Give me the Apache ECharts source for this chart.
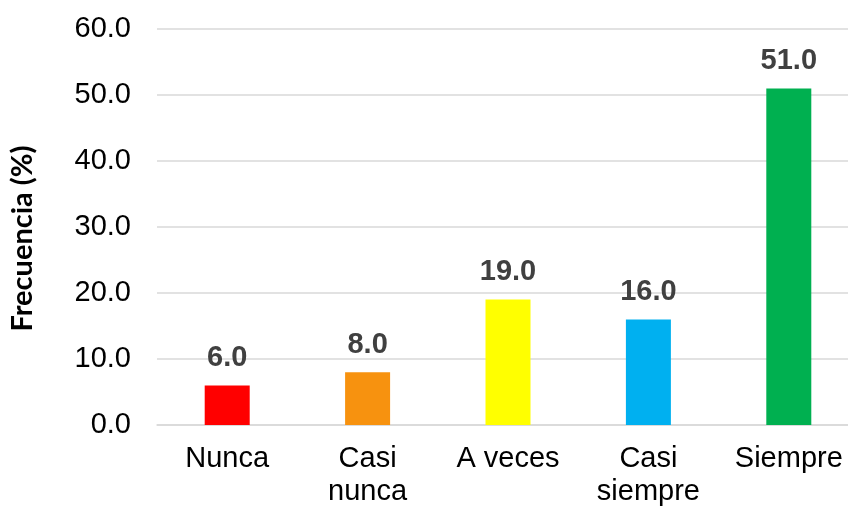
<!DOCTYPE html>
<html>
<head>
<meta charset="utf-8">
<script src="https://cdn.jsdelivr.net/npm/echarts@6/dist/echarts.min.js"></script>
<style>
html,body{margin:0;padding:0;background:#fff;}
#chart{width:848px;height:506px;}
</style>
</head>
<body>
<div id="chart"></div>
<script>
var categories = ['Nunca', 'Casi\nnunca', 'A veces', 'Casi\nsiempre', 'Siempre'];
var values = [6.0, 8.0, 19.0, 16.0, 51.0];
var barColors = ['#FF0000', '#F7920F', '#FFFF00', '#00B0F0', '#00B050'];
var yTitle = 'Frecuencia (%)';

var chart = echarts.init(document.getElementById('chart'), null, {renderer: 'canvas'});
chart.setOption({
  backgroundColor: '#ffffff',
  animation: false,
  grid: {left: 157, top: 29, width: 702, height: 396, containLabel: false, outerBoundsMode: 'none'},
  graphic: [{
    type: 'text',
    x: 23, y: 238.5,
    rotation: Math.PI / 2,
    style: {
      text: yTitle,
      font: 'bold 29px Lato',
      fill: '#000000',
      align: 'center',
      verticalAlign: 'middle'
    }
  }],
  xAxis: {
    type: 'category',
    data: categories,
    axisLine: {show: true, lineStyle: {color: '#d9d9d9', width: 1.5}},
    axisTick: {show: false},
    axisLabel: {
      interval: 0,
      margin: 17,
      fontFamily: 'Liberation Sans, Arial, sans-serif',
      fontSize: 29,
      lineHeight: 33,
      color: '#000000'
    }
  },
  yAxis: {
    type: 'value',
    min: 0, max: 60, interval: 10,
    axisLine: {show: false},
    axisTick: {show: false},
    splitLine: {lineStyle: {color: '#d9d9d9', width: 1.5}},
    axisLabel: {
      margin: 26,
      fontFamily: 'Liberation Sans, Arial, sans-serif',
      fontSize: 29,
      color: '#000000',
      formatter: function (v) { return v.toFixed(1); }
    }
  },
  series: [{
    type: 'bar',
    barWidth: 45,
    data: values.map(function (v, i) {
      return {value: v, itemStyle: {color: barColors[i]}};
    }),
    label: {
      show: true,
      position: 'top',
      distance: 13,
      fontFamily: 'Liberation Sans, Arial, sans-serif',
      fontSize: 29,
      fontWeight: 'bold',
      color: '#404040',
      formatter: function (p) { return p.value.toFixed(1); }
    }
  }]
});
</script>
</body>
</html>
